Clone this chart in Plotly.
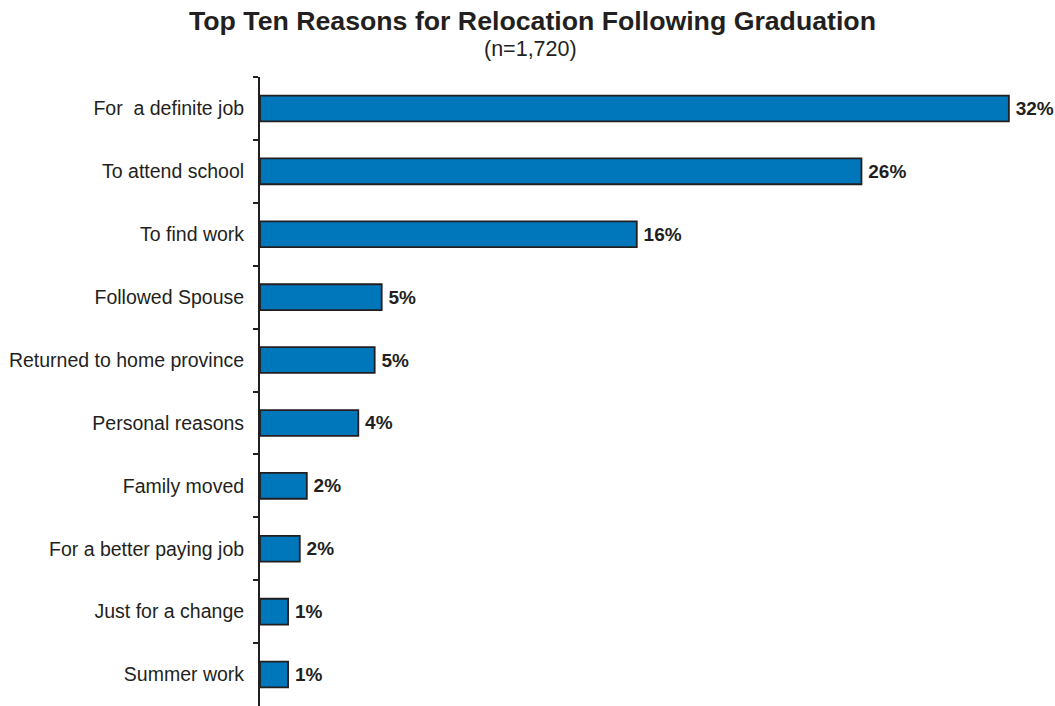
import plotly.graph_objects as go

# Reasons for relocation, top to bottom, with share of respondents (%)
reasons = [
    "For  a definite job",
    "To attend school",
    "To find work",
    "Followed Spouse",
    "Returned to home province",
    "Personal reasons",
    "Family moved",
    "For a better paying job",
    "Just for a change",
    "Summer work",
]
shares = [32.0, 25.7, 16.1, 5.2, 4.9, 4.2, 2.0, 1.7, 1.2, 1.2]

title_text = "Top Ten Reasons for Relocation Following Graduation"
subtitle_text = "(n=1,720)"

ink = "#231f20"
bar_blue = "#0077bb"
font_family = "Liberation Sans, Arial, sans-serif"

W, H = 1055, 706
M_L, M_R, M_T, M_B = 260, 15, 77, 0

fig = go.Figure(
    go.Bar(
        x=shares,
        y=reasons,
        orientation="h",
        width=0.41,
        marker=dict(color=bar_blue, line=dict(color=ink, width=1.8)),
        texttemplate="\u2009%{x:.0f}%",
        textposition="outside",
        textfont=dict(family=font_family, size=19, color=ink, weight="bold"),
        cliponaxis=False,
        hoverinfo="skip",
    )
)


def paper_xy(px, py):
    """Convert pixel position on the page into paper coordinates."""
    return (px - M_L) / (W - M_L - M_R), (H - M_B - py) / (H - M_T - M_B)


tx, ty = paper_xy(532, 21)
sx, sy = paper_xy(530, 48.5)

fig.update_layout(
    width=W,
    height=H,
    margin=dict(l=M_L, r=M_R, t=M_T, b=M_B),
    paper_bgcolor="white",
    plot_bgcolor="white",
    showlegend=False,
    font=dict(family=font_family, color=ink),
    annotations=[
        dict(
            text=f"<b>{title_text}</b>",
            x=tx, y=ty, xref="paper", yref="paper",
            xanchor="center", yanchor="middle",
            showarrow=False, font=dict(size=26.7, color=ink),
        ),
        dict(
            text=subtitle_text,
            x=sx, y=sy, xref="paper", yref="paper",
            xanchor="center", yanchor="middle",
            showarrow=False, font=dict(size=21.5, color=ink),
        ),
    ],
)

fig.update_xaxes(
    range=[0, 33.33],
    visible=False,
    showgrid=False,
    zeroline=False,
)

fig.update_yaxes(
    categoryorder="array",
    categoryarray=reasons,
    autorange="reversed",
    showline=True,
    linecolor=ink,
    linewidth=2,
    ticks="outside",
    tickson="boundaries",
    ticklen=5,
    tickwidth=2,
    tickcolor=ink,
    ticklabelstandoff=10,
    tickfont=dict(size=19.5, color=ink),
    showgrid=False,
    zeroline=False,
)

fig.write_html("out.html")
